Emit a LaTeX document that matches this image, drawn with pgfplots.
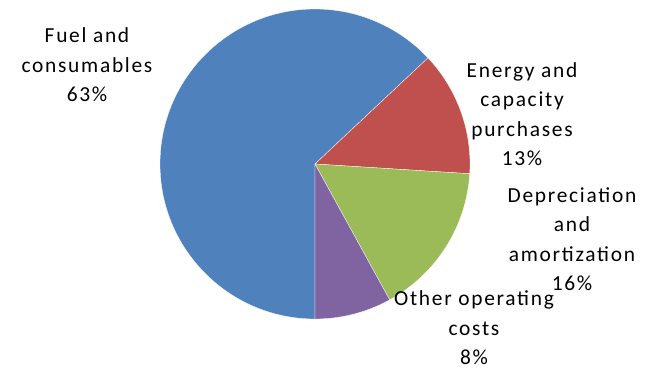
\documentclass[border=0pt]{standalone}
\usepackage{pgfplots}
\pgfplotsset{compat=1.18}
\usepackage{pgfplotstable}
\usepackage{fontspec}
\setmainfont{Carlito}
\newfontfamily\lblfont[LetterSpace=8]{Carlito}
\definecolor{pie0}{HTML}{4F81BD}
\definecolor{pie1}{HTML}{C0504D}
\definecolor{pie2}{HTML}{9BBB59}
\definecolor{pie3}{HTML}{8064A2}
\pgfplotstableread{
label value
Fuel 63
Energy 13
Depreciation 16
Other 8
}\piedata
\begin{document}
\begin{tikzpicture}
\begin{axis}[
  width=655bp, height=369bp, scale only axis,
  xmin=0, xmax=655, ymin=0, ymax=369,
  hide axis, clip=false,
]
\path (axis cs:0,0) rectangle (axis cs:655,369);
\gdef\start{-90}
\pgfplotsforeachungrouped \i in {0,...,3}{
  \pgfplotstablegetelem{\i}{value}\of\piedata
  \pgfmathsetmacro\val{\pgfplotsretval}
  \pgfmathsetmacro\endang{\start-3.6*\val}
  \edef\temp{\noexpand\fill[pie\i, draw=white, line width=0.3bp] (axis cs:315,205) -- ++(\start:155bp) arc[start angle=\start, end angle=\endang, radius=155bp] -- cycle;}
  \temp
  \global\let\start\endang
}
\tikzset{lbl/.style={align=center, font=\lblfont\fontsize{21.5}{29.5}\selectfont, inner sep=0pt}}
\node[lbl] at (axis cs:87,304) {Fuel and\\consumables\\63\%};
\node[lbl] at (axis cs:522,255) {Energy and\\capacity\\purchases\\13\%};
\node[lbl] at (axis cs:572,130) {Depreciation\\and\\amortization\\16\%};
\node[lbl] at (axis cs:474,41) {Other operating\\costs\\8\%};
\end{axis}
\end{tikzpicture}
\end{document}
